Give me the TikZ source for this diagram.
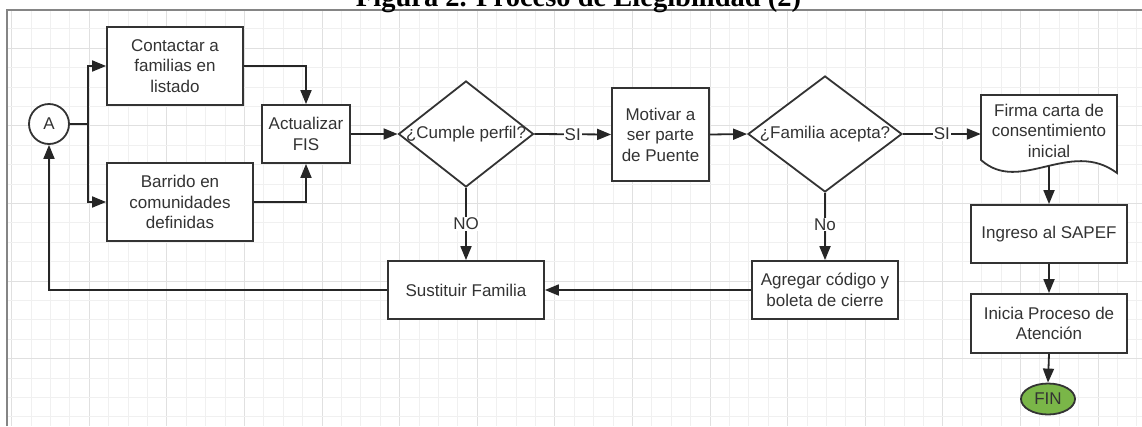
\documentclass[tikz,border=0pt]{standalone}
\usepackage{fontspec}
\setmainfont{Liberation Sans}
\newfontfamily\titlefont{Liberation Serif}
\usetikzlibrary{shapes.geometric,arrows.meta}
\definecolor{gridminor}{HTML}{F0F0F0}
\definecolor{gridmajor}{HTML}{E0E0E0}
\definecolor{framegray}{HTML}{858585}
\definecolor{ink}{HTML}{333333}
\definecolor{fingreen}{HTML}{7AB648}
\tikzset{
  txt/.style={text=ink, font=\fontsize{17}{20.5}\selectfont},
  box/.style={txt, draw=ink, line width=1.8pt, fill=white, rectangle, inner sep=0pt, align=center},
  dia/.style={draw=ink, line width=1.8pt, fill=white, diamond, inner sep=0pt},
  conn/.style={draw=black!85, line width=1.8pt},
  arr/.style={conn, -{Triangle[length=14pt,width=11pt]}},
  lbl/.style={txt, fill=white, inner sep=1pt}
}
\begin{document}
\begin{tikzpicture}[x=1pt,y=-1pt]
\useasboundingbox (0,0) rectangle (1142,426);
% grid
\begin{scope}
\clip (7,10) rectangle (1142,426);
\foreach \i in {0,...,58} {
  \pgfmathsetmacro\gx{11.7+19.4*\i}
  \pgfmathtruncatemacro\m{mod(\i,4)}
  \ifnum\m=0
    \draw[gridmajor,line width=1pt] (\gx,10) -- (\gx,426);
  \else
    \draw[gridminor,line width=1pt] (\gx,10) -- (\gx,426);
  \fi
}
\foreach \j in {-2,...,19} {
  \pgfmathsetmacro\gy{48.3+19.4*\j}
  \pgfmathtruncatemacro\m{abs(mod(\j,4))}
  \ifnum\m=0
    \draw[gridmajor,line width=1pt] (7,\gy) -- (1142,\gy);
  \else
    \draw[gridminor,line width=1pt] (7,\gy) -- (1142,\gy);
  \fi
}
\end{scope}
\draw[framegray, line width=2pt] (7,426) -- (7,10) -- (1142,10);
% title
\node[font=\titlefont\bfseries\fontsize{28.5}{30}\selectfont, anchor=base, inner sep=0pt] (title) at (578.5,6.5) {Figura 2. Proceso de Elegibilidad (2)};
% nodes
\node[txt, circle, draw=ink, line width=1.8pt, fill=white, minimum size=40pt, inner sep=0pt] (A) at (49,124) {A};
\coordinate (split) at (88,124);
\node[box, minimum width=136pt, minimum height=78pt] (contact) at (175,66) {Contactar a\\familias en\\listado};
\node[box, minimum width=146pt, minimum height=78pt] (barrido) at (180,202) {Barrido en\\comunidades\\definidas};
\node[box, minimum width=88pt, minimum height=58pt] (actual) at (306,134) {Actualizar\\FIS};
\node[dia, minimum width=135pt, minimum height=106pt, label={[txt]center:¿Cumple perfil?}] (cumple) at (466,134) {};
\node[box, minimum width=97pt, minimum height=93pt] (motivar) at (660.5,134.5) {Motivar a\\ser parte\\de Puente};
\node[dia, minimum width=154pt, minimum height=116pt, label={[txt]center:¿Familia acepta?}] (familia) at (825,134) {};
\draw[ink, line width=1.8pt, fill=white] (981,160) -- (981,95) -- (1117,95) -- (1117,173) .. controls (1070,138) and (1020,195) .. (981,160) -- cycle;
\node[txt, align=center, minimum width=136pt, minimum height=71pt, inner sep=0pt] (firma) at (1049,130.5) {Firma carta de\\consentimiento\\inicial};
\node[box, minimum width=156pt, minimum height=58pt] (ingreso) at (1049,234) {Ingreso al SAPEF};
\node[box, minimum width=156pt, minimum height=59pt] (inicia) at (1049,323.5) {Inicia Proceso de\\Atención};
\node[txt, ellipse, draw=ink, fill=fingreen, line width=1.8pt, minimum width=54pt, minimum height=31pt, inner sep=0pt] (fin) at (1048,399) {FIN};
\node[box, minimum width=146pt, minimum height=58pt] (agregar) at (825,290) {Agregar código y\\boleta de cierre};
\node[box, minimum width=156pt, minimum height=58pt] (sust) at (466,290) {Sustituir Familia};
% connectors
\draw[conn] (A.east) -- (split);
\draw[arr] (split) |- (contact.west);
\draw[arr] (split) |- (barrido.west);
\draw[arr] (contact.east) -| (actual.north);
\draw[arr] (barrido.east) -| (actual.south);
\draw[arr] (actual.east) -- (cumple.west);
\draw[arr] (cumple.east) -- node[lbl]{SI} (motivar.west);
\draw[arr] (motivar.east) -- (familia.west);
\draw[arr] (familia.east) -- node[lbl]{SI} (familia.east -| firma.west);
\draw[arr] (firma.south) -- (ingreso.north);
\draw[arr] (ingreso.south) -- (inicia.north);
\draw[arr] (inicia.south) -- (fin.north);
\draw[arr] (cumple.south) -- node[lbl]{NO} (sust.north);
\draw[arr] (familia.south) -- node[lbl, pos=0.47]{No} (agregar.north);
\draw[arr] (agregar.west) -- (sust.east);
\draw[arr] (sust.west) -| (A.south);
\end{tikzpicture}
\end{document}
